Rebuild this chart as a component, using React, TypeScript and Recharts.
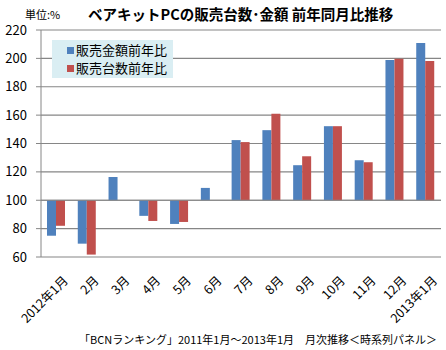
import { BarChart, Bar, XAxis, YAxis, CartesianGrid, ReferenceLine } from "recharts";

const months = ["2012年1月", "2月", "3月", "4月", "5月", "6月", "7月", "8月", "9月", "10月", "11月", "12月", "2013年1月"];
const amountYoY = [75, 69.4, 116.4, 89, 83.3, 108.7, 142.4, 149.4, 124.7, 152.2, 128.2, 198.8, 210.8];
const unitsYoY = [82, 61.7, 100, 85.4, 84.7, 100, 141, 160.9, 131, 152.2, 126.8, 199.8, 198.1];
const yTicks = [60, 80, 100, 120, 140, 160, 180, 200, 220];

const BLUE = "#4F81BD";
const RED = "#C0504D";
const FONT = "'Noto Sans CJK JP', 'DejaVu Sans', sans-serif";

const data = months.map((m, i) => ({ month: m, amount: amountYoY[i], units: unitsYoY[i] }));

// rotated month labels, right end hanging from the category centre
const MonthTick = ({ x, y, payload }: any) => (
  <text
    x={x + 4}
    y={y + 8}
    transform={`rotate(-45 ${x + 4} ${y + 8})`}
    textAnchor="end"
    dominantBaseline="hanging"
    fontSize={12.5}
    fontFamily={FONT}
    fill="#000"
  >
    {payload.value}
  </text>
);

const LegendBox = () => (
  <div
    style={{
      position: "absolute",
      left: 52,
      top: 40,
      background: "#DAEEF3",
      width: 121,
      height: 38,
      padding: "1px 0 0 15px",
      boxSizing: "border-box",
      fontFamily: FONT,
      fontSize: 13,
      lineHeight: "18px",
      color: "#000",
    }}
  >
    {[
      { c: BLUE, t: "販売金額前年比" },
      { c: RED, t: "販売台数前年比" },
    ].map((it) => (
      <div key={it.t} style={{ display: "flex", alignItems: "center" }}>
        <span style={{ width: 7, height: 7, background: it.c, marginRight: 2, display: "inline-block" }} />
        {it.t}
      </div>
    ))}
  </div>
);

export default function App() {
  return (
    <div style={{ position: "absolute", left: 0, top: 0, width: 446, height: 350, background: "#fff" }}>
      <BarChart
        width={446}
        height={350}
        data={data}
        margin={{ top: 30, right: 5, bottom: 0, left: 0 }}
        barGap={0}
        barSize={9}
      >
        <CartesianGrid vertical={false} stroke="#868686" strokeWidth={1.2} />
        <XAxis dataKey="month" height={93} interval={0} axisLine={false} tickLine={false} tick={<MonthTick />} />
        <YAxis
          width={41}
          domain={[60, 220]}
          ticks={yTicks}
          interval={0}
          axisLine={{ stroke: "#868686" }}
          tickLine={{ stroke: "#868686" }}
          tickSize={5}
          tickMargin={9}
          tick={{ fontSize: 13, fill: "#000", fontFamily: FONT }}
        />
        <ReferenceLine y={100} stroke="#868686" strokeWidth={1.2} />
        <Bar dataKey={(d: any) => [100, d.amount]} name="販売金額前年比" fill={BLUE} isAnimationActive={false} />
        <Bar dataKey={(d: any) => [100, d.units]} name="販売台数前年比" fill={RED} isAnimationActive={false} />
      </BarChart>
      <LegendBox />
      <div style={{ position: "absolute", left: 25, top: 6, fontFamily: FONT, fontSize: 11, color: "#000" }}>単位:%</div>
      <div style={{ position: "absolute", left: 88, top: 3, fontFamily: FONT, fontSize: 14.5, fontWeight: "bold", color: "#000", whiteSpace: "nowrap" }}>
        ベアキットPCの販売台数･金額 前年同月比推移
      </div>
      <div style={{ position: "absolute", right: 9, top: 331, fontFamily: FONT, fontSize: 11, color: "#000", whiteSpace: "nowrap" }}>
        「BCNランキング」2011年1月～2013年1月　月次推移＜時系列パネル＞
      </div>
    </div>
  );
}
